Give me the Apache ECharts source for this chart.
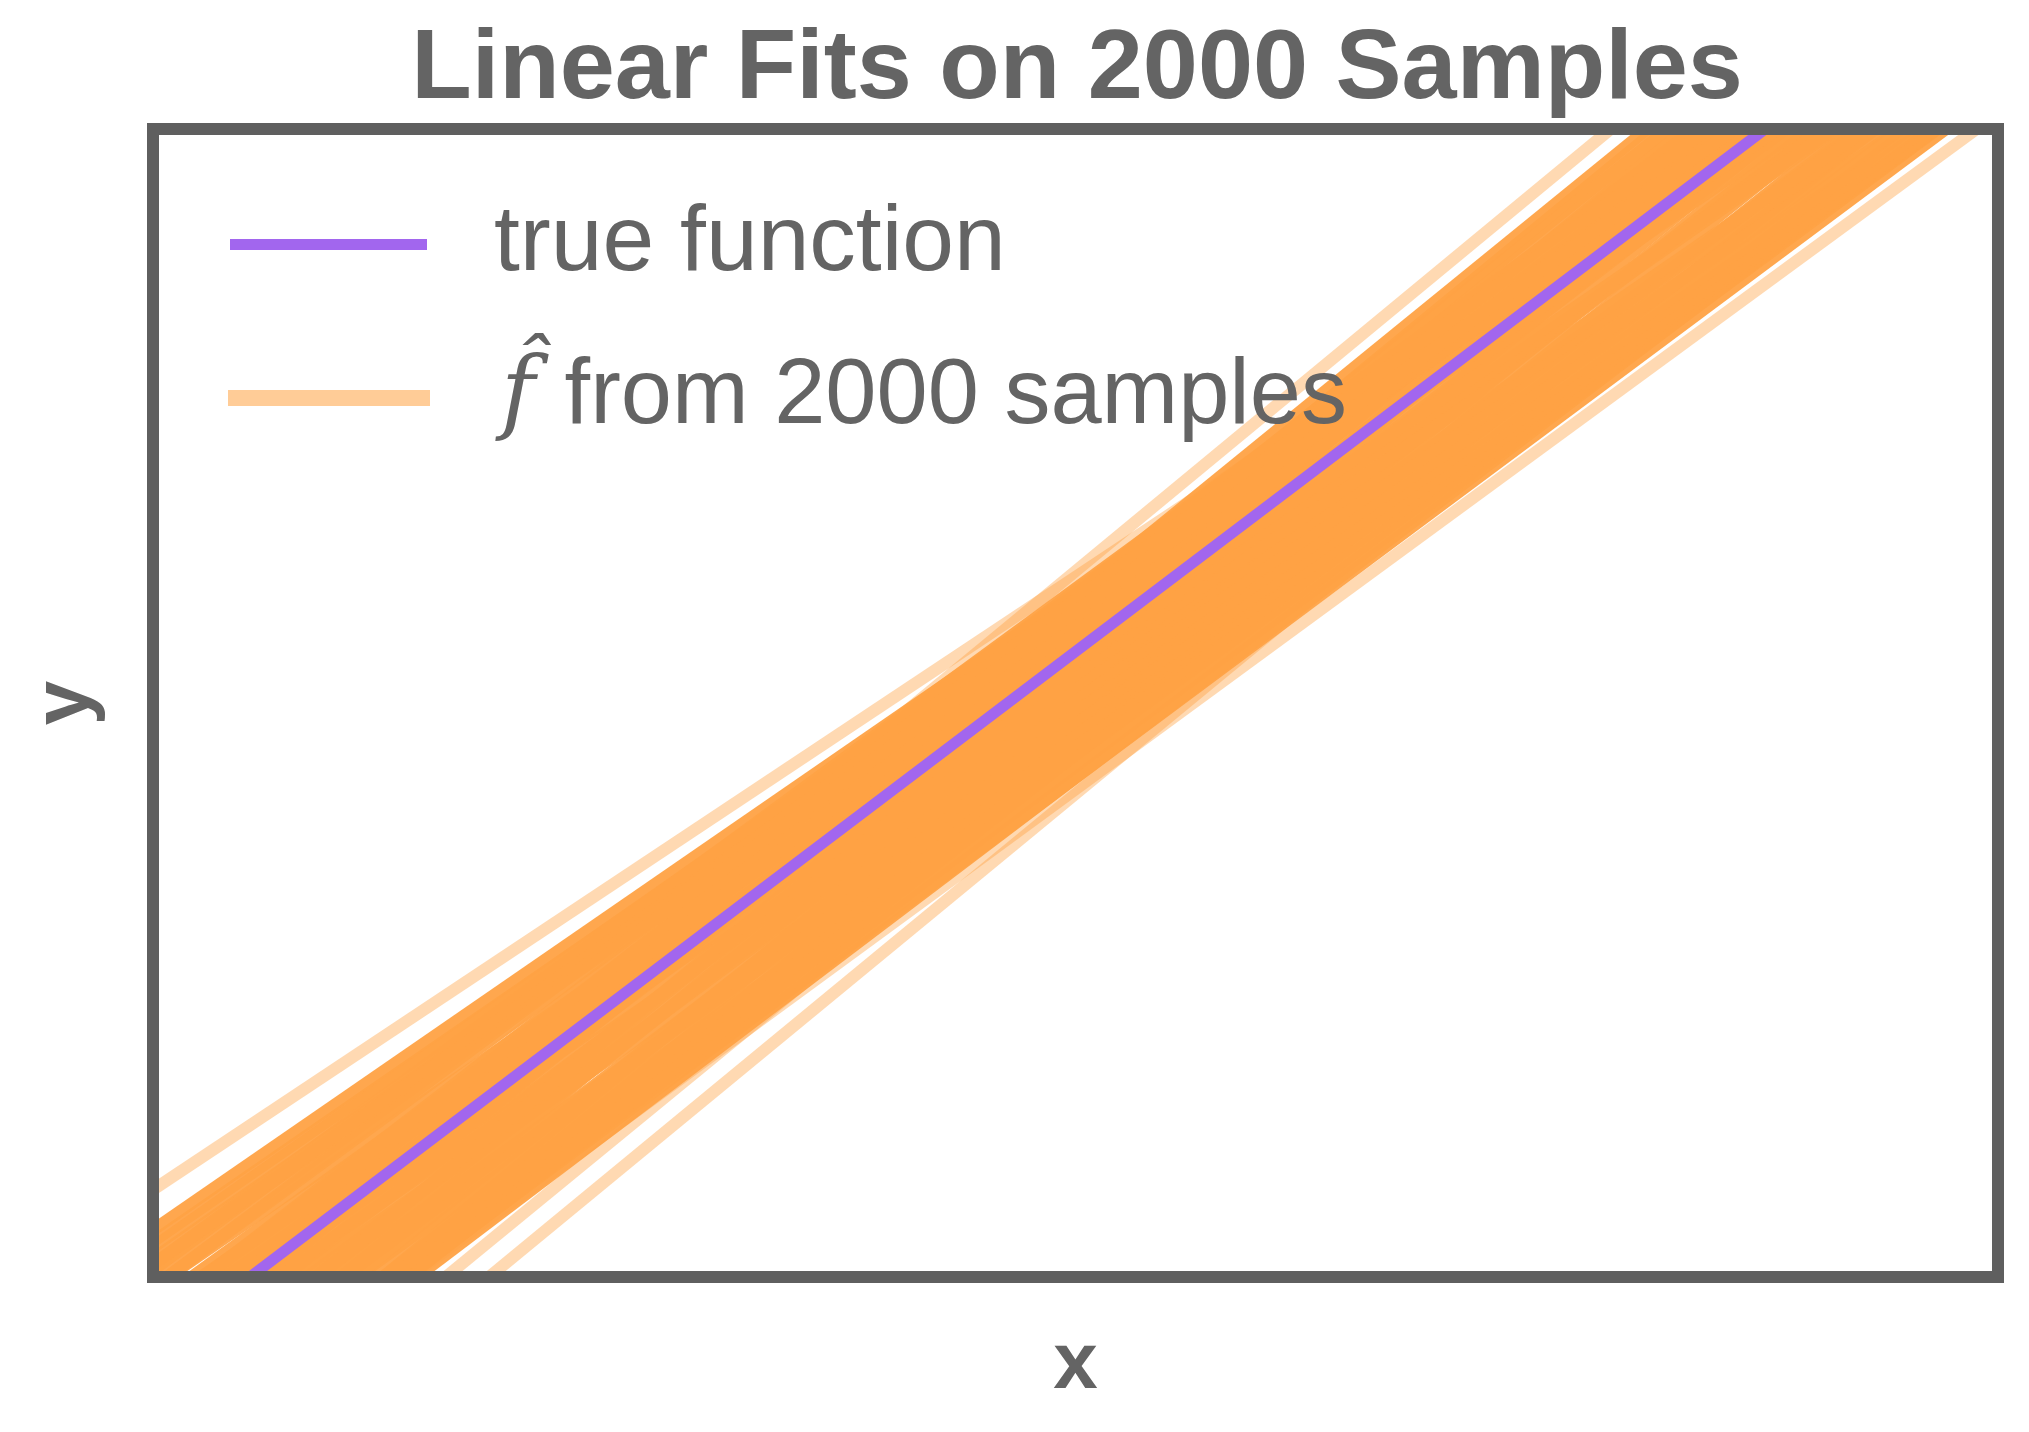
<!DOCTYPE html>
<html>
<head>
<meta charset="utf-8">
<title>Linear Fits on 2000 Samples</title>
<script src="https://cdn.jsdelivr.net/npm/echarts@6/dist/echarts.min.js"></script>
<style>
  html, body { margin: 0; padding: 0; background: #fff; }
  #chart { width: 2029px; height: 1432px; }
</style>
</head>
<body>
<div id="chart"></div>
<script>
  // every line is drawn from xStart to xEnd
  var xStart = 0
  var xEnd = 10

  // true function, y at xStart and at xEnd
  var trueLeft = -0.641
  var trueRight = 11.537

  // linear fits of the main bundle, y at xStart and at xEnd
  var fitLeft = [
    -1.641, -1.741, -1.491, -1.691, -1.291, -1.541, -1.741, -1.091, -1.541, -1.741,
    -0.891, -1.241, -1.691, -0.741, -1.241, -1.691, -0.591, -0.991, -1.391, -1.641,
    -0.491, -1.091, -1.591, -0.441, -0.841, -1.241, -0.291, -0.941, -1.341, -0.291,
    -0.691, -1.141, -0.091, -0.641, -1.191, -0.241, -0.741, 0.109, -0.441, -0.941,
    0.159, -0.791, 0.309, -0.341, -0.741, 0.409, -0.591, 0.259, 0.009, -0.491,
    -0.341, 0.059, 0.109, 0.109, -0.641, -0.591, -0.891, -0.091, -0.091
  ]
  var fitRight = [
    10.337, 10.437, 10.387, 10.587, 10.387, 10.637, 10.837, 10.387, 10.837, 11.037,
    10.387, 10.737, 11.187, 10.437, 10.937, 11.387, 10.487, 10.887, 11.287, 11.537,
    10.587, 11.187, 11.687, 10.737, 11.137, 11.537, 10.787, 11.437, 11.837, 10.987,
    11.387, 11.837, 10.987, 11.537, 12.087, 11.337, 11.837, 11.187, 11.737, 12.237,
    11.337, 12.287, 11.387, 12.037, 12.437, 11.487, 12.487, 11.537, 11.587, 12.287,
    11.837, 11.897, 11.887, 11.487, 11.937, 12.087, 11.987, 11.887, 11.687
  ]
  // the few fits that stray from the bundle
  var strayLeft = [0.759, -0.491, -2.091, -2.411, -1.641]
  var strayRight = [11.437, 12.787, 11.087, 10.827, 10.137]

  var textColor = '#646464'
  var frameColor = '#5f5f5f'
  var purple = '#a266ee'
  var orange = '#ffa245'
  var fitName = 'fhat'

  function fitLine(y0, y1, opacity) {
    return {
      name: fitName,
      type: 'line',
      silent: true,
      showSymbol: false,
      symbol: 'none',
      data: [[xStart, y0], [xEnd, y1]],
      lineStyle: { color: orange, width: 12, opacity: opacity },
      itemStyle: { color: orange },
      z: 2
    }
  }

  var series = []
  for (let i = 0; i < strayLeft.length; i++) {
    series.push(fitLine(strayLeft[i], strayRight[i], 0.41))
  }
  for (let i = 0; i < fitLeft.length; i++) {
    series.push(fitLine(fitLeft[i], fitRight[i], 0.95))
  }
  series.push({
    name: 'true function',
    type: 'line',
    silent: true,
    showSymbol: false,
    symbol: 'none',
    data: [[xStart, trueLeft], [xEnd, trueRight]],
    lineStyle: { color: purple, width: 11 },
    itemStyle: { color: purple },
    z: 3
  })

  const chart = echarts.init(document.getElementById('chart'))
  chart.setOption({
    animation: false,
    backgroundColor: '#fff',
    title: {
      text: 'Linear Fits on 2000 Samples',
      left: 1077,
      top: 21,
      textAlign: 'center',
      padding: 0,
      textStyle: {
        fontFamily: 'Liberation Sans',
        fontWeight: 'bold',
        fontSize: 99,
        color: textColor
      }
    },
    legend: [
      {
        selectedMode: false,
        left: 230,
        top: 198,
        padding: 0,
        itemWidth: 197,
        itemHeight: 11,
        data: [{ name: 'true function', icon: 'rect', itemStyle: { color: purple, opacity: 1 } }],
        formatter: function (name) { return '{gap|}' + name },
        textStyle: {
          fontFamily: 'Liberation Sans',
          fontSize: 93,
          color: textColor,
          rich: { gap: { width: 62 } }
        }
      },
      {
        selectedMode: false,
        left: 228,
        top: 352,
        padding: 0,
        itemWidth: 202,
        itemHeight: 16,
        data: [{ name: fitName, icon: 'rect', itemStyle: { color: '#ffcc97', opacity: 1 } }],
        formatter: function () { return '{gap|}{f|f\u0302} from 2000 samples' },
        textStyle: {
          fontFamily: 'Liberation Sans',
          fontSize: 92,
          color: textColor,
          rich: {
            gap: { width: 66 },
            f: {
              fontFamily: 'DejaVu Serif',
              fontStyle: 'italic',
              fontSize: 92,
              color: textColor,
              padding: [0, 4, 0, 0]
            }
          }
        }
      }
    ],
    grid: {
      show: true,
      z: 10,
      left: 153,
      right: 31,
      top: 129,
      bottom: 155,
      backgroundColor: 'transparent',
      borderColor: frameColor,
      borderWidth: 12
    },
    xAxis: {
      type: 'value',
      min: xStart,
      max: xEnd,
      name: 'x',
      nameLocation: 'middle',
      nameGap: 49,
      nameTextStyle: { fontFamily: 'Liberation Sans', fontWeight: 'bold', fontSize: 80, color: textColor },
      axisLine: { show: false },
      axisTick: { show: false },
      axisLabel: { show: false },
      splitLine: { show: false }
    },
    yAxis: {
      type: 'value',
      min: 0,
      max: 10,
      name: 'y',
      nameLocation: 'middle',
      nameGap: 47,
      nameTextStyle: { fontFamily: 'Liberation Sans', fontWeight: 'bold', fontSize: 80, color: textColor },
      axisLine: { show: false },
      axisTick: { show: false },
      axisLabel: { show: false },
      splitLine: { show: false }
    },
    series: series
  })
</script>
</body>
</html>
